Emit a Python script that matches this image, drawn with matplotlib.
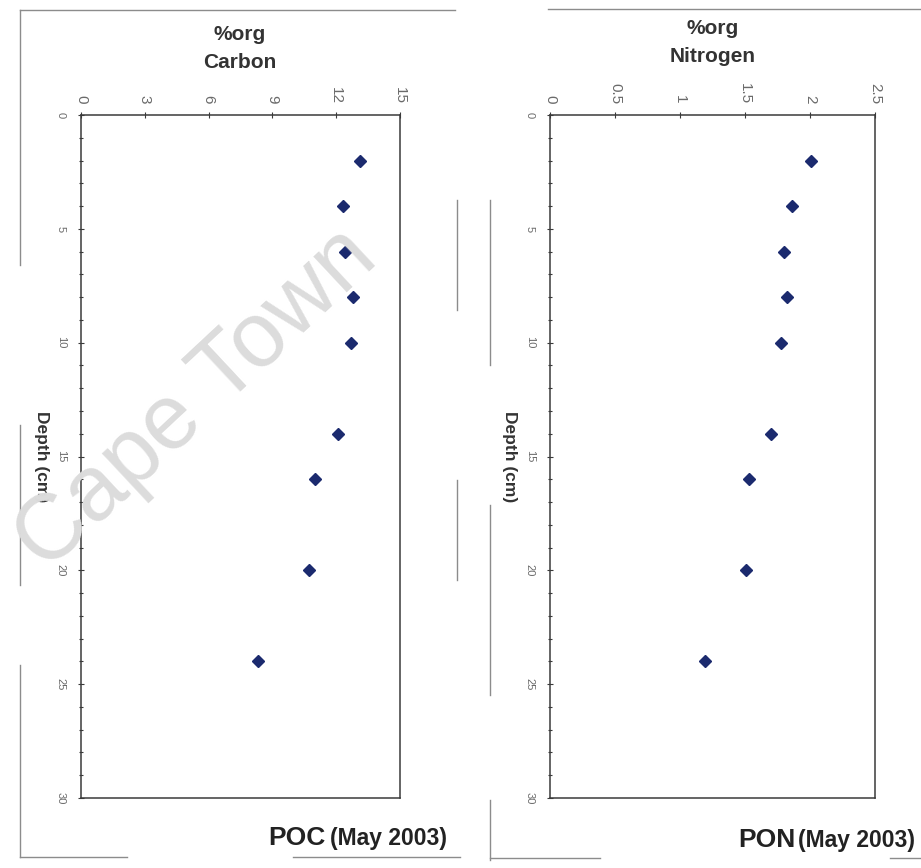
import matplotlib

matplotlib.use("Agg")
import matplotlib.pyplot as plt  # noqa: E402
from matplotlib.lines import Line2D  # noqa: E402
from matplotlib.ticker import MultipleLocator  # noqa: E402

plt.rcParams["font.family"] = ["Liberation Sans", "DejaVu Sans"]

# Sediment core profiles, May 2003
depth_cm = [2, 4, 6, 8, 10, 14, 16, 20, 24]
poc_pct = [13.1, 12.3, 12.4, 12.8, 12.7, 12.1, 11.0, 10.7, 8.3]
pon_pct = [2.01, 1.86, 1.80, 1.82, 1.78, 1.70, 1.53, 1.51, 1.19]

poc_ticks = [0, 3, 6, 9, 12, 15]
pon_ticks = [0, 0.5, 1, 1.5, 2, 2.5]
pon_ticklabels = ["0", "0.5", "1", "1.5", "2", "2.5"]
depth_ticks = [0, 5, 10, 15, 20, 25, 30]

W, H = 921, 868
NAVY = "#1b2a6e"
SPINE = "#3a3a3a"
TICKTXT = "#6a6a6a"
LABEL = "#333333"
FRAME = "#8c8c8c"


def px(x, y):
    """pixel position (origin top-left) -> figure fraction"""
    return x / W, 1 - y / H


def seg(fig, x0, y0, x1, y1, color=FRAME, lw=1.0):
    a, b = px(x0, y0), px(x1, y1)
    fig.add_artist(Line2D([a[0], b[0]], [a[1], b[1]], transform=fig.transFigure,
                          color=color, lw=lw, zorder=0))


def profile(ax, values, xticks, xticklabels, xmax):
    ax.plot(values, depth_cm, ls="none", marker="D", ms=6, color=NAVY,
            mec=NAVY, zorder=5)
    ax.set_xlim(0, xmax)
    ax.set_ylim(30, 0)
    ax.xaxis.set_ticks_position("top")
    ax.set_xticks(xticks)
    ax.set_xticklabels(xticklabels, rotation=-90, fontsize=11, color=TICKTXT)
    ax.set_yticks(depth_ticks)
    ax.set_yticklabels([str(t) for t in depth_ticks], rotation=-90, fontsize=8,
                       color=TICKTXT, va="center")
    ax.yaxis.set_minor_locator(MultipleLocator(1))
    ax.tick_params(axis="x", direction="inout", length=4, width=0.8, pad=6,
                   color=SPINE)
    ax.tick_params(axis="y", which="major", direction="inout", length=4, width=0.8,
                   pad=9, color=SPINE)
    ax.tick_params(axis="y", which="minor", direction="inout", length=2.5, width=0.8,
                   color=SPINE)
    for s in ax.spines.values():
        s.set_color(SPINE)
        s.set_linewidth(1.1)
    ax.text(-0.125, 0.5, "Depth (cm)", transform=ax.transAxes, rotation=-90,
            ha="center", va="center", fontsize=12.5, fontweight="bold", color=LABEL)


fig = plt.figure(figsize=(W / 100, H / 100), dpi=100)
fig.patch.set_facecolor("white")

ax_c = fig.add_axes([81 / W, 1 - 798 / H, 319 / W, 683 / H])
ax_n = fig.add_axes([550 / W, 1 - 798 / H, 325 / W, 683 / H])

profile(ax_c, poc_pct, poc_ticks, [str(t) for t in poc_ticks], 15)
profile(ax_n, pon_pct, pon_ticks, pon_ticklabels, 2.5)

# axis titles above each panel
for xc, y1, y2, element in [(240, 35, 62, "Carbon"), (713, 29, 56, "Nitrogen")]:
    fig.text(*px(xc, y1), "%org", ha="center", va="center", fontsize=15,
             fontweight="bold", color=LABEL)
    fig.text(*px(xc, y2), element, ha="center", va="center", fontsize=15,
             fontweight="bold", color=LABEL)

# panel captions
for x_end, x_name, y_base, name in [(447, 325, 845, "POC"), (915, 795, 847, "PON")]:
    fig.text(*px(x_end, y_base), "(May 2003)", ha="right", va="baseline",
             fontsize=16.5, fontweight="bold", color="#222222")
    fig.text(*px(x_name, y_base), name, ha="right", va="baseline",
             fontsize=19, fontweight="bold", color="#222222")

# page frames around each panel
seg(fig, 20, 10, 455, 10)
seg(fig, 20, 10, 20, 265)
seg(fig, 20, 425, 20, 585)
seg(fig, 20, 665, 20, 857)
seg(fig, 20, 857, 127, 857)
seg(fig, 293, 857, 460, 857)
seg(fig, 457, 200, 457, 310)
seg(fig, 457, 480, 457, 580)
seg(fig, 548, 9, 921, 9)
seg(fig, 490, 200, 490, 365)
seg(fig, 490, 505, 490, 695)
seg(fig, 490, 800, 490, 860)
seg(fig, 490, 858, 600, 858)
seg(fig, 890, 858, 921, 858)

# watermark
fig.text(*px(380, 262), "Cape Town", rotation=43,
         rotation_mode="anchor", ha="right", va="baseline", fontsize=66,
         color="#dcdcdc", zorder=10)

fig.savefig("out.png", dpi=100, facecolor=fig.get_facecolor())
